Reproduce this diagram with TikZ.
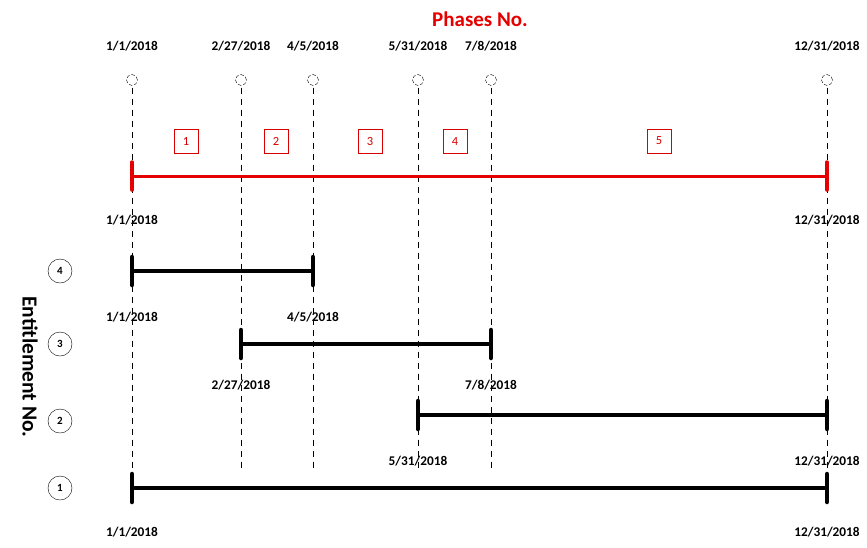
\documentclass[tikz,border=0pt]{standalone}
\usepackage{fontspec}
\setmainfont{Carlito}
\begin{document}
\begin{tikzpicture}[x=1pt,y=-1pt,
  datelbl/.style={font=\bfseries\fontsize{13.3}{13}\selectfont, inner sep=0pt},
  dcirc/.style={circle, draw, dashed, dash pattern=on 3.5pt off 2pt, minimum size=11pt, inner sep=0pt},
  vline/.style={draw, dashed, dash pattern=on 6pt off 5pt, line width=0.9pt},
  phasebox/.style={draw=red!85!black, text=red!85!black, minimum size=24pt, inner sep=0pt, font=\fontsize{12.5}{12}\selectfont},
  entcirc/.style={circle, draw, minimum size=24pt, inner sep=0pt, font=\bfseries\fontsize{11}{11}\selectfont},
  bar/.style={line width=3.6pt},
  tick/.style={line width=4.5pt, line cap=round},
  redbar/.style={line width=3pt, red!90!black},
  redtick/.style={line width=3.5pt, line cap=round, red!90!black}
]
\useasboundingbox (0,0) rectangle (867,547);

% title
\node[text=red!90!black, font=\bfseries\fontsize{21}{21}\selectfont] (title) at (480,19) {Phases No.};
\node[rotate=-90, font=\bfseries\fontsize{21.5}{21}\selectfont] (ent) at (30,367) {Entitlement No.};

% top date labels
\node[datelbl] (t1) at (132,46) {1/1/2018};
\node[datelbl] (t2) at (241,46) {2/27/2018};
\node[datelbl] (t3) at (313,46) {4/5/2018};
\node[datelbl] (t4) at (418,46) {5/31/2018};
\node[datelbl] (t5) at (491,46) {7/8/2018};
\node[datelbl] (t6) at (827,46) {12/31/2018};

% dashed circles
\node[dcirc] (c1) at (132,80) {};
\node[dcirc] (c2) at (241,80) {};
\node[dcirc] (c3) at (313,80) {};
\node[dcirc] (c4) at (418,80) {};
\node[dcirc] (c5) at (491,80) {};
\node[dcirc] (c6) at (827,80) {};

% bottom ends of vertical lines
\coordinate (e1) at (132,476);
\coordinate (e2) at (241,470);
\coordinate (e3) at (313,470);
\coordinate (e4) at (418,470);
\coordinate (e5) at (491,470);
\coordinate (e6) at (827,476);
\foreach \i in {1,...,6} {\draw[vline] (c\i.south) ++(0,2) -- (e\i);}

% phase boxes
\node[phasebox] (p1) at (186,141) {1};
\node[phasebox] (p2) at (276,141) {2};
\node[phasebox] (p3) at (370,141) {3};
\node[phasebox] (p4) at (455,141) {4};
\node[phasebox] (p5) at (659,141) {5};

% red phase bar
\coordinate (ra) at (132,176);
\coordinate (rb) at (827,176);
\draw[redbar] (ra) -- (rb);
\draw[redtick] (ra) ++(0,-14) -- ++(0,28);
\draw[redtick] (rb) ++(0,-14) -- ++(0,28);
\node[datelbl] (rl1) at (132,220) {1/1/2018};
\node[datelbl] (rl2) at (827,220) {12/31/2018};

% entitlement circles
\node[entcirc] (n4) at (60,271) {4};
\node[entcirc] (n3) at (60,344) {3};
\node[entcirc] (n2) at (60,421) {2};
\node[entcirc] (n1) at (60,488) {1};

% entitlement 4
\coordinate (a4) at (132,271); \coordinate (b4) at (313,271);
\draw[bar] (a4) -- (b4);
\draw[tick] (a4) ++(0,-14) -- ++(0,28);
\draw[tick] (b4) ++(0,-14) -- ++(0,28);
\node[datelbl] (l4a) at (132,317) {1/1/2018};
\node[datelbl] (l4b) at (313,317) {4/5/2018};

% entitlement 3
\coordinate (a3) at (241,344); \coordinate (b3) at (491,344);
\draw[bar] (a3) -- (b3);
\draw[tick] (a3) ++(0,-14) -- ++(0,28);
\draw[tick] (b3) ++(0,-14) -- ++(0,28);
\node[datelbl] (l3a) at (241,385) {2/27/2018};
\node[datelbl] (l3b) at (491,385) {7/8/2018};

% entitlement 2
\coordinate (a2) at (418,415); \coordinate (b2) at (827,415);
\draw[bar] (a2) -- (b2);
\draw[tick] (a2) ++(0,-14) -- ++(0,28);
\draw[tick] (b2) ++(0,-14) -- ++(0,28);
\node[datelbl] (l2a) at (418,461) {5/31/2018};
\node[datelbl] (l2b) at (827,461) {12/31/2018};

% entitlement 1
\coordinate (a1) at (132,488); \coordinate (b1) at (827,488);
\draw[bar] (a1) -- (b1);
\draw[tick] (a1) ++(0,-14) -- ++(0,28);
\draw[tick] (b1) ++(0,-14) -- ++(0,28);
\node[datelbl] (l1a) at (132,532) {1/1/2018};
\node[datelbl] (l1b) at (827,532) {12/31/2018};
\end{tikzpicture}
\end{document}
